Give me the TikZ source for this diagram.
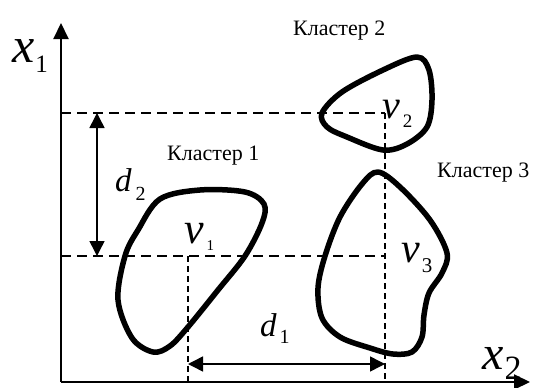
\documentclass[tikz,border=0pt]{standalone}
\usepackage{fontspec}
\setmainfont{Liberation Serif}
\usetikzlibrary{arrows.meta}
\tikzset{
  axis/.style    = {line width=2pt, -{Triangle[length=16pt, width=15pt]}},
  dist/.style    = {line width=1.5pt, {Triangle[length=15pt, width=15pt]}-{Triangle[length=15pt, width=15pt]}},
  hdash/.style   = {line width=2pt, dash pattern=on 10pt off 6pt},
  vdash/.style   = {line width=1.5pt, dash pattern=on 6pt off 4pt},
  cluster/.style = {line width=5.5pt, line join=round},
  lbl/.style     = {font=\fontsize{22}{22}\selectfont, inner sep=0pt, anchor=base west},
  symb/.style    = {inner sep=0pt, anchor=base west},
}
% letter with index: size, letter, index size, index, drop, kern
\newcommand{\symb}[6]{{\fontsize{#1}{#1}\selectfont\itshape #2}\kern#6\raisebox{-#5}{\fontsize{#3}{#3}\selectfont #4}}

\begin{document}
\begin{tikzpicture}[x=1pt, y=-1pt]
  \useasboundingbox (0,0) rectangle (538,388);
  % axes
  \coordinate (o) at (61,382);
  \coordinate (ytip) at (61,23);
  \coordinate (xtip) at (530,382);
  \draw[axis] (o) -- (ytip);
  \draw[axis] (o) -- (xtip);
  % centres
  \coordinate (v1) at (188,256);
  \coordinate (v2) at (385,113);
  \coordinate (v3) at (385,256);
  \draw[hdash] (v2 -| o) -- (v2);
  \draw[hdash] (v1 -| o) -- (v3);
  \draw[vdash] (v2) -- (v2 |- o);
  \draw[vdash] (v1) -- (v1 |- o);
  % distances
  \coordinate (a2) at (97,113);
  \coordinate (b2) at (97,256);
  \coordinate (a1) at (188,364);
  \coordinate (b1) at (385,364);
  \draw[dist] (a2) -- (b2);
  \draw[dist] (a1) -- (b1);
  % clusters
  \draw[cluster] plot[smooth cycle, tension=0.55] coordinates {
    (200,190) (245,192) (264,204) (262,223) (245,256) (218,290) (188,327)
    (170,346) (153,352) (132,338) (118,300) (125,256) (138,230) (160,199)};
  \draw[cluster] plot[smooth cycle, tension=0.55] coordinates {
    (322,113) (342,92) (383,70) (417,57) (429,70) (432,100) (427,127)
    (407,144) (383,150) (347,137) (327,127)};
  \draw[cluster] plot[smooth cycle, tension=0.55] coordinates {
    (378,172) (400,187) (430,220) (447,253) (442,273) (429,293) (424,315)
    (422,337) (412,352) (393,354) (370,348) (340,337) (322,318) (318,288)
    (325,256) (340,217) (362,184)};
  % labels
  \node[symb] (x1) at (12,62) {\symb{50}{x}{25}{1}{10pt}{1pt}};
  \node[symb] (x2) at (482,369) {\symb{48}{x}{34}{2}{10pt}{1pt}};
  \node[symb] (d2) at (115,191) {\symb{33}{d}{20}{2}{9pt}{4pt}};
  \node[symb] (d1) at (260,336) {\symb{33}{d}{20}{1}{7pt}{3pt}};
  \node[symb] (n1) at (184,243) {\symb{44}{ν}{15}{1}{7pt}{3pt}};
  \node[symb] (n2) at (382,118) {\symb{40}{ν}{19}{2}{9pt}{3pt}};
  \node[symb] (n3) at (401,262) {\symb{42}{ν}{21}{3}{10pt}{2pt}};
  \node[lbl] (c1) at (167,160) {Кластер 1};
  \node[lbl] (c2) at (293,35) {Кластер 2};
  \node[lbl] (c3) at (437,177) {Кластер 3};
\end{tikzpicture}
\end{document}
